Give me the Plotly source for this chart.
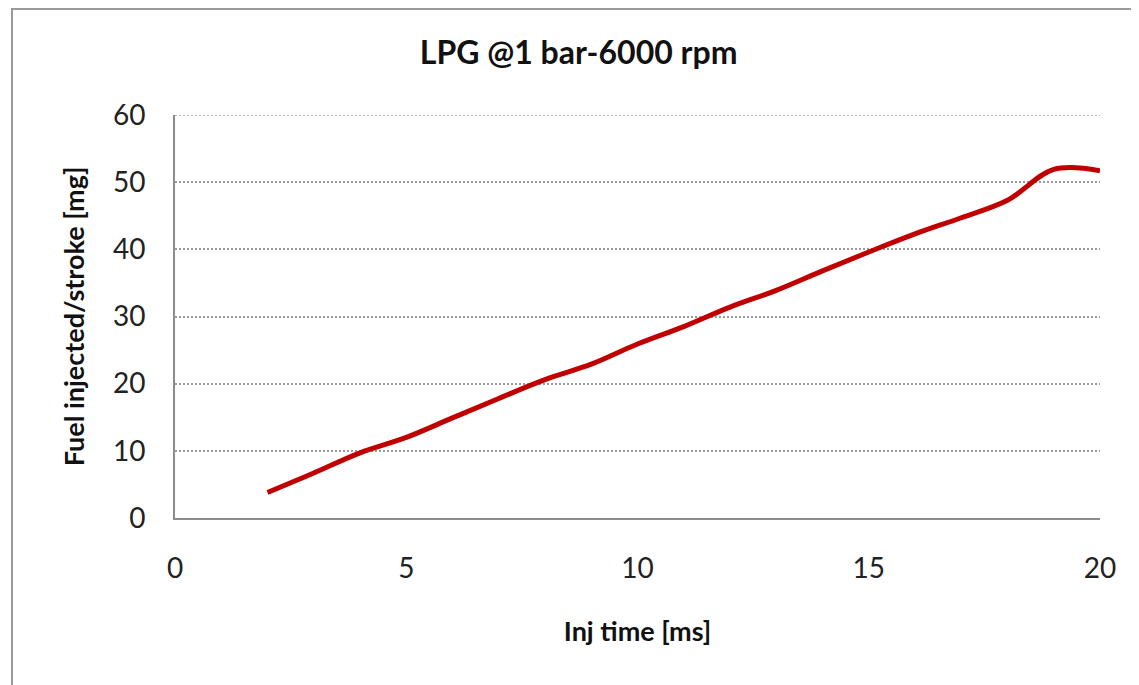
import plotly.graph_objects as go

# Data
inj_time_ms = [2, 3, 4, 5, 6, 7, 8, 9, 10, 11, 12, 13, 14, 15, 16, 17, 18, 19, 20]
fuel_mg = [3.8, 6.7, 9.7, 12.0, 14.9, 17.8, 20.6, 22.9, 25.9, 28.5, 31.4, 33.9,
           36.8, 39.6, 42.3, 44.7, 47.3, 51.9, 51.7]

x_ticks = [0, 5, 10, 15, 20]
y_ticks = [0, 10, 20, 30, 40, 50, 60]

FONT = "Lato"

# plot area in figure pixels (page has an 8px body margin)
L, R, T, B = 167, 1092, 107, 510
W, H = R - L, B - T

fig = go.Figure()
fig.add_trace(go.Scatter(
    x=inj_time_ms, y=fuel_mg, mode="lines",
    line=dict(color="#C00000", width=5, shape="spline", smoothing=1.0),
    showlegend=False, hoverinfo="x+y",
))

fig.update_layout(
    width=1139, height=685,
    margin=dict(l=L, r=1139 - R, t=T, b=685 - B),
    paper_bgcolor="white", plot_bgcolor="white",
    font=dict(family=FONT, color="#222222"),
    title=dict(text="<b>LPG @1 bar-6000 rpm</b>", x=0.501, xref="container",
               y=1 - 45 / 685, yref="container", xanchor="center", yanchor="middle",
               font=dict(family=FONT, size=32, color="#111111")),
    xaxis=dict(
        range=[0, 20], tickvals=x_ticks, ticktext=[str(v) for v in x_ticks],
        showgrid=False, zeroline=False,
        showline=True, linecolor="#8c8c8c", linewidth=2,
        ticks="", ticklabelstandoff=24,
        tickfont=dict(family=FONT, size=28, color="#222222"),
        title=dict(text="<b>Inj time [ms]</b>", standoff=40,
                   font=dict(family=FONT, size=27, color="#111111")),
        fixedrange=True,
    ),
    yaxis=dict(
        range=[0, 60], tickvals=y_ticks, ticktext=[str(v) for v in y_ticks],
        showgrid=True, gridcolor="#9a9a9a", griddash="2px,2px", gridwidth=1.5,
        zeroline=False,
        showline=True, linecolor="#8c8c8c", linewidth=2,
        ticks="", ticklabelstandoff=22,
        tickfont=dict(family=FONT, size=28, color="#222222"),
        title=dict(text="<b>Fuel injected/stroke [mg]</b>", standoff=20,
                   font=dict(family=FONT, size=27, color="#111111")),
        fixedrange=True,
    ),
    shapes=[
        dict(type="rect", xref="paper", yref="paper",
             x0=(4 - L) / W, x1=(1160 - L) / W,
             y0=(B - 700) / H, y1=(B - 1) / H,
             line=dict(color="#9a9a9a", width=2), fillcolor="rgba(0,0,0,0)",
             layer="below"),
        # top gridline (at the upper edge of the y range)
        dict(type="line", xref="paper", yref="y", x0=0, x1=1,
             y0=y_ticks[-1], y1=y_ticks[-1],
             line=dict(color="#9a9a9a", width=1.5, dash="2px,2px"), layer="below"),
    ],
)

fig.write_html("out.html")
